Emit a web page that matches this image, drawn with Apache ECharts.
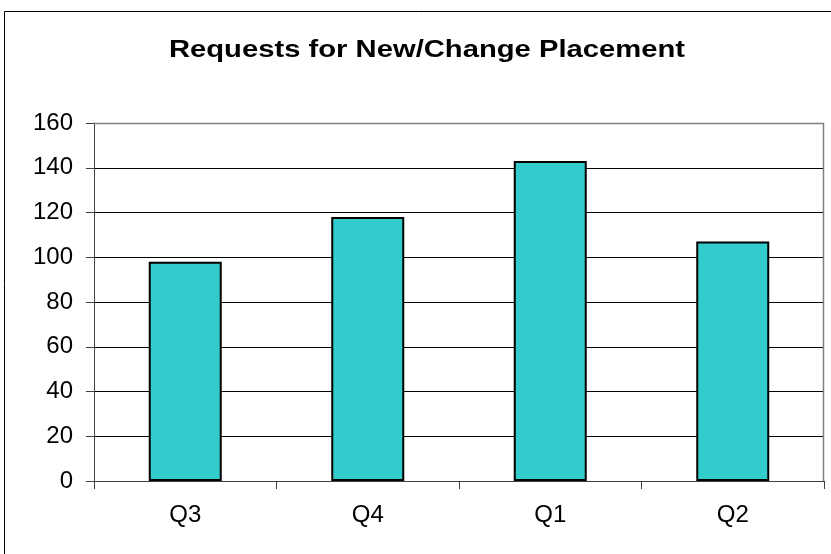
<!DOCTYPE html>
<html>
<head>
<meta charset="utf-8">
<script src="https://cdn.jsdelivr.net/npm/echarts@6/dist/echarts.min.js"></script>
<style>
html, body { margin: 0; padding: 0; background: #fff; }
#chart { width: 831px; height: 554px; }
</style>
</head>
<body>
<div id="chart"></div>
<script>
var quarters = ["Q3", "Q4", "Q1", "Q2"];
var requests = [98, 118, 143, 107];
var chartTitle = "Requests for New/Change Placement";

var myChart = echarts.init(document.getElementById("chart"));
myChart.setOption({
    animation: false,
    graphic: [{
        // outer chart border (right / bottom run off the picture)
        type: "rect",
        shape: { x: 4.5, y: 11.5, width: 900, height: 700 },
        style: { fill: null, stroke: "#000", lineWidth: 1 },
        z: 10
    }, {
        // gray plot frame, top and right
        type: "polyline",
        shape: { points: [[94, 123.5], [823.5, 123.5], [823.5, 481]] },
        style: { fill: null, stroke: "#808080", lineWidth: 1.5 },
        z: 100
    }, {
        // title, spaced out like the original
        type: "text",
        x: 427,
        y: 51,
        scaleX: 1.27,
        style: {
            text: chartTitle,
            fontFamily: "Arial",
            fontWeight: "bold",
            fontSize: 23,
            fill: "#000",
            textAlign: "center",
            textVerticalAlign: "middle"
        },
        z: 100
    }],
    grid: { left: 94, top: 123, right: 7, bottom: 73 },
    xAxis: {
        type: "category",
        data: quarters,
        axisLine: { lineStyle: { color: "#404040", width: 1 } },
        axisTick: { show: true, length: 8, lineStyle: { color: "#404040" } },
        axisLabel: { fontFamily: "Arial", fontSize: 24, color: "#000", margin: 22 }
    },
    yAxis: {
        type: "value",
        min: 0,
        max: 160,
        interval: 20,
        axisLine: { show: true, lineStyle: { color: "#404040", width: 1 } },
        axisTick: { show: true, length: 8, lineStyle: { color: "#404040" } },
        axisLabel: { fontFamily: "Arial", fontSize: 24, color: "#000", margin: 21 },
        splitLine: { lineStyle: { color: "#000", width: 1 } }
    },
    series: [{
        type: "bar",
        data: requests,
        barWidth: "40%",
        itemStyle: { color: "#33CCCC", borderColor: "#000", borderWidth: 2 }
    }]
});
</script>
</body>
</html>
